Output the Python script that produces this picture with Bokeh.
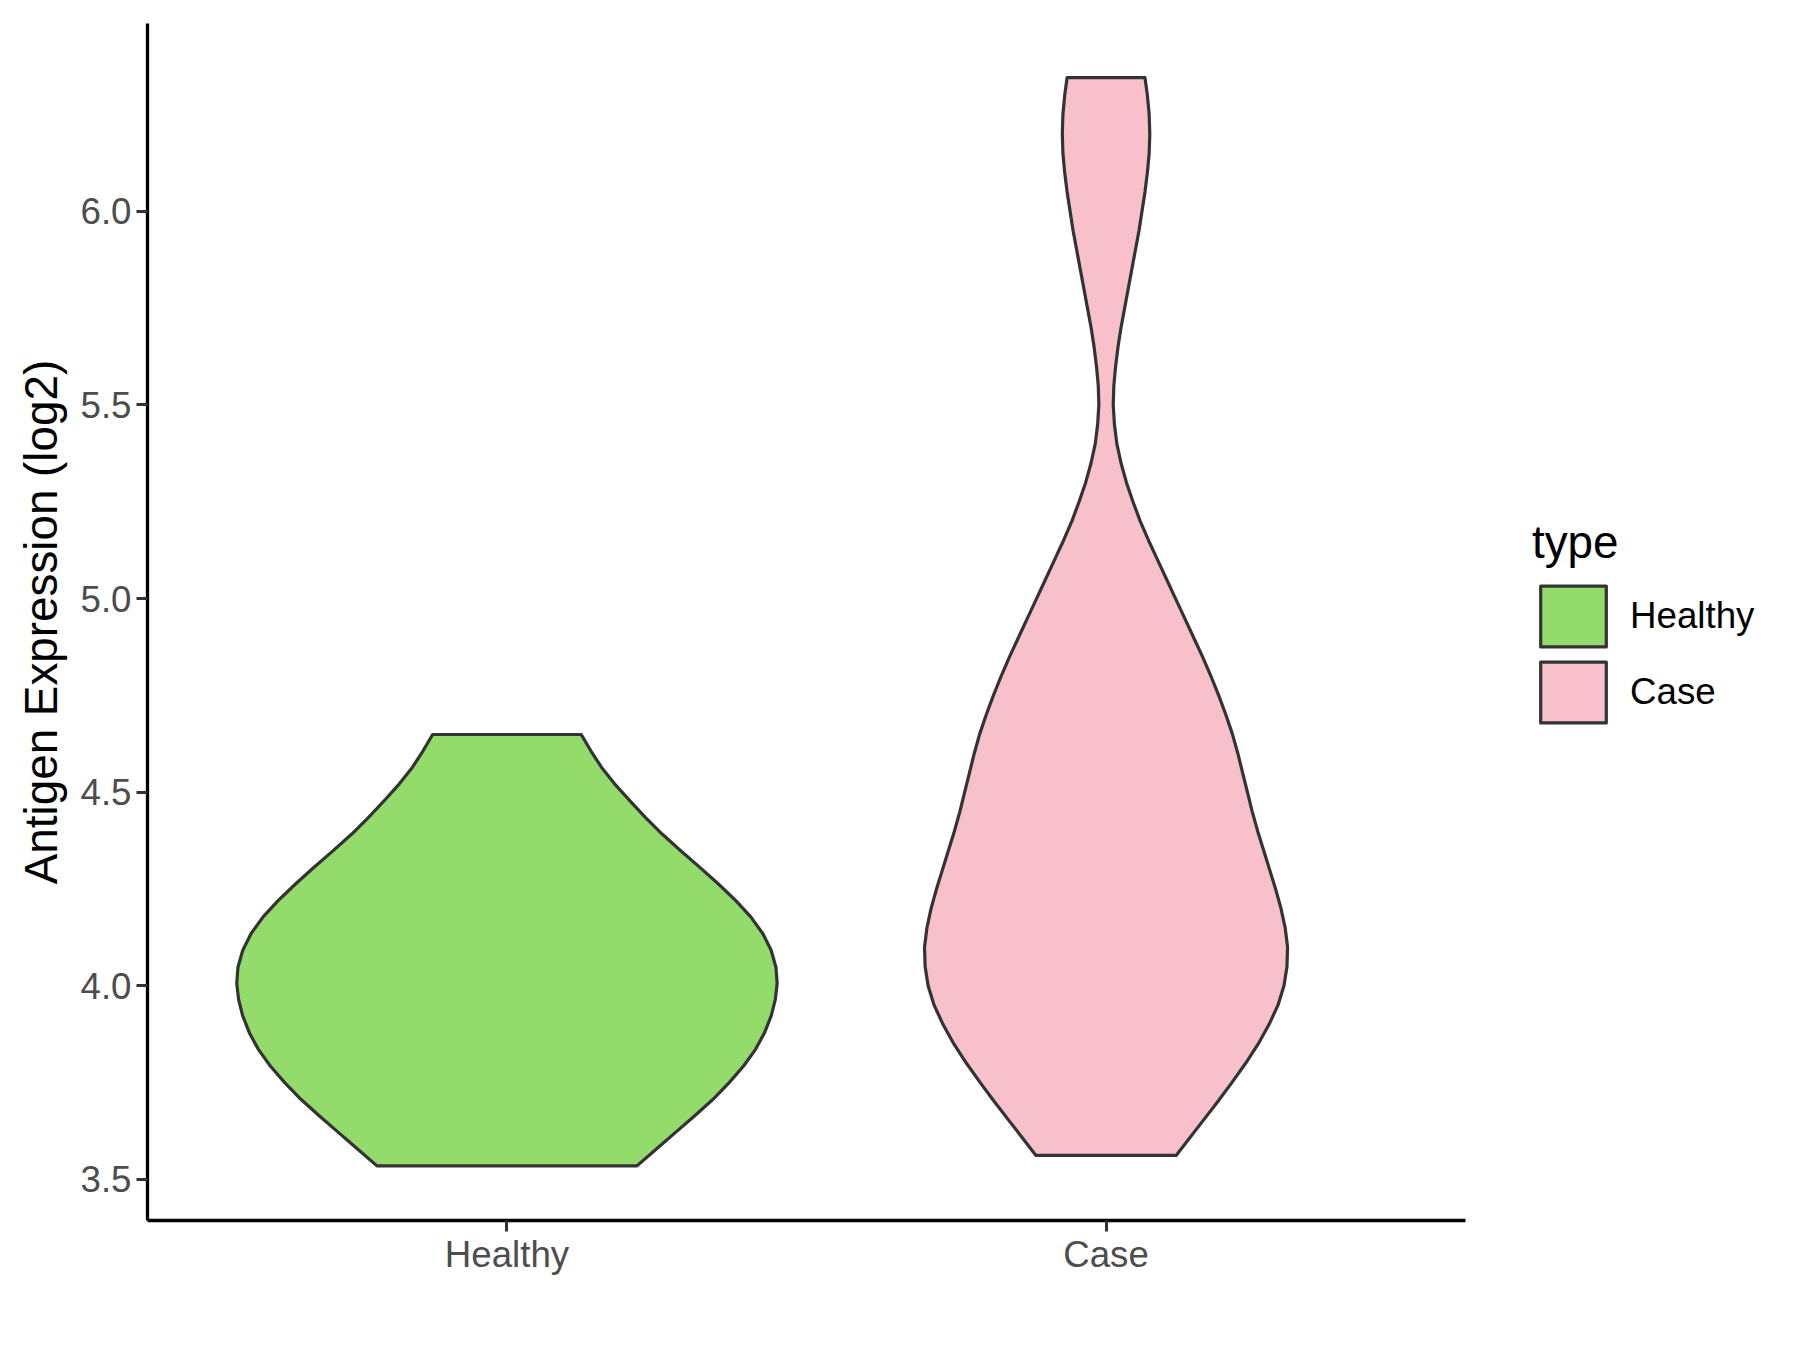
from bokeh.plotting import figure
from bokeh.models import Range1d, FixedTicker, NumeralTickFormatter, Legend, LegendItem
from bokeh.embed import file_html
from bokeh.resources import INLINE

# ---- data ----
categories = ["Healthy", "Case"]
category_positions = [1, 2]
fill_colors = ["#93DB6A", "#F7C0CB"]
outline_color = "#333333"

# violin outlines: expression level (log2) and half-width (fraction of category spacing)
healthy_y = [3.535, 3.578, 3.621, 3.664, 3.707, 3.750, 3.793, 3.836, 3.879, 3.922,
             3.965, 4.006, 4.048, 4.092, 4.135, 4.178, 4.220, 4.263, 4.306, 4.349,
             4.392, 4.435, 4.478, 4.521, 4.564, 4.607, 4.649]
healthy_halfwidth = [0.217, 0.249, 0.281, 0.313, 0.344, 0.371, 0.395, 0.415, 0.430, 0.441,
                     0.448, 0.451, 0.449, 0.441, 0.427, 0.407, 0.382, 0.353, 0.322, 0.290,
                     0.259, 0.231, 0.205, 0.180, 0.158, 0.140, 0.124]

case_y = [3.562, 3.60, 3.65, 3.70, 3.75, 3.80, 3.85, 3.90, 3.95, 4.00,
          4.05, 4.10, 4.15, 4.20, 4.25, 4.30, 4.35, 4.40, 4.45, 4.50,
          4.55, 4.60, 4.65, 4.70, 4.75, 4.80, 4.85, 4.90, 4.95, 5.00,
          5.05, 5.10, 5.15, 5.20, 5.25, 5.30, 5.35, 5.40, 5.45, 5.50,
          5.55, 5.60, 5.65, 5.70, 5.75, 5.80, 5.85, 5.90, 5.95, 6.00,
          6.05, 6.10, 6.15, 6.20, 6.25, 6.30, 6.345]
case_halfwidth = [0.117, 0.136, 0.161, 0.186, 0.210, 0.233, 0.254, 0.272, 0.287, 0.297,
                  0.302, 0.303, 0.299, 0.292, 0.283, 0.273, 0.263, 0.253, 0.244, 0.236,
                  0.228, 0.220, 0.211, 0.200, 0.188, 0.175, 0.161, 0.146, 0.131, 0.116,
                  0.101, 0.086, 0.071, 0.057, 0.045, 0.034, 0.025, 0.018, 0.014, 0.012,
                  0.013, 0.016, 0.020, 0.025, 0.031, 0.037, 0.043, 0.049, 0.055, 0.060,
                  0.065, 0.069, 0.072, 0.073, 0.072, 0.069, 0.065]

y_ticks = [3.5, 4.0, 4.5, 5.0, 5.5, 6.0]
y_label = "Antigen Expression (log2)"
legend_title = "type"

FONT = "Liberation Sans"

p = figure(frame_width=1318, frame_height=1197,
           x_range=Range1d(0.4, 2.6), y_range=Range1d(3.394, 6.485),
           output_backend="svg", toolbar_location=None, title=None,
           min_border_left=147, min_border_right=327,
           min_border_top=23, min_border_bottom=122)

p.background_fill_color = "white"
p.border_fill_color = "white"
p.outline_line_color = None
p.xgrid.visible = False
p.ygrid.visible = False


def violin(center, ys, ws):
    xs = [center + w for w in ws] + [center - w for w in reversed(ws)]
    yy = list(ys) + list(reversed(ys))
    return xs, yy


renderers = []
for pos, ys, ws, col in zip(category_positions, [healthy_y, case_y],
                            [healthy_halfwidth, case_halfwidth], fill_colors):
    xs, yy = violin(pos, ys, ws)
    r = p.patch(xs, yy, fill_color=col, line_color=outline_color,
                line_width=3.2, line_join="round")
    renderers.append(r)

# axes
for ax in (p.xaxis[0], p.yaxis[0]):
    ax.axis_line_color = "black"
    ax.axis_line_width = 3.3
    ax.major_tick_line_color = outline_color
    ax.major_tick_line_width = 3
    ax.major_tick_out = 11
    ax.major_tick_in = 0
    ax.minor_tick_line_color = None
    ax.major_label_text_font = FONT
    ax.major_label_text_font_size = "36.7px"
    ax.major_label_text_color = "#4D4D4D"

p.xaxis.major_label_standoff = 2
p.yaxis.major_label_standoff = 5

p.xaxis.ticker = FixedTicker(ticks=category_positions)
p.xaxis.major_label_overrides = {pos: cat for pos, cat in zip(category_positions, categories)}

p.yaxis.ticker = FixedTicker(ticks=y_ticks)
p.yaxis.formatter = NumeralTickFormatter(format="0.0")
p.yaxis.axis_label = y_label
p.yaxis.axis_label_text_font = FONT
p.yaxis.axis_label_text_font_size = "45.8px"
p.yaxis.axis_label_text_font_style = "normal"
p.yaxis.axis_label_text_color = "black"
p.yaxis.axis_label_standoff = 10

legend = Legend(
    items=[LegendItem(label=c, renderers=[r]) for c, r in zip(categories, renderers)],
    location=(67, 490),
    title=legend_title,
    title_text_font=FONT, title_text_font_size="45.8px", title_text_font_style="normal",
    title_text_color="black", title_standoff=9,
    label_text_font=FONT, label_text_font_size="36.7px", label_text_color="black",
    label_standoff=16, glyph_width=82, glyph_height=76, spacing=0,
    padding=0, margin=0, border_line_color=None, background_fill_alpha=0,
)
p.add_layout(legend, "right")

open("out.html", "w").write(file_html(p, INLINE))
